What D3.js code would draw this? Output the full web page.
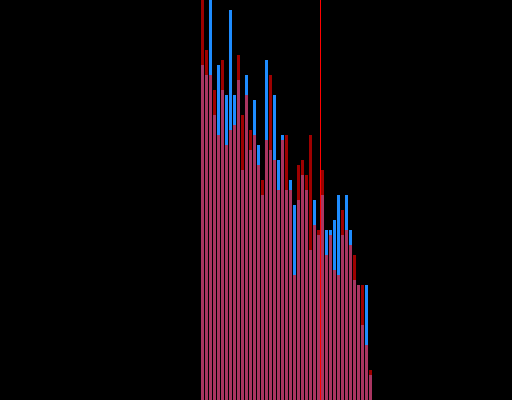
<!DOCTYPE html>
<html>
<head>
<meta charset="utf-8">
<script src="https://cdn.jsdelivr.net/npm/d3@7"></script>
<style>
  html, body { margin: 0; padding: 0; background: #000; }
  svg { display: block; overflow: hidden; }
</style>
</head>
<body>
<script>
// Data
const categories = d3.range(1, 44).map(String);
const blueValues = [67,65,84,57,67,62,61,78,61,64,46,65,50,60,51,41,68,50,61,48,53,42,44,39,40,45,42,30,40,33,41,34,34,36,41,33,41,34,24,23,15,23,5];
const redValues  = [85,70,65,62,53,68,51,54,55,69,57,61,54,53,47,44,52,65,48,42,52,53,42,25,47,48,45,53,35,34,46,29,33,26,25,38,34,31,29,23,23,11,6];
const markerCategory = "31"; // vertical red rule drawn just left of this category

const W = 512, H = 400;
const svg = d3.select("body").append("svg").attr("width", W).attr("height", H);
svg.append("rect").attr("width", W).attr("height", H).attr("fill", "#000");

const x = d3.scaleBand().domain(categories).range([200.5, 372.5]).paddingInner(0.25).paddingOuter(0.125);
const y = d3.scaleLinear().domain([0, 80]).range([H, 0]);

svg.append("g").selectAll("rect").data(blueValues).join("rect")
  .attr("x", (d, i) => Math.round(x(categories[i])))
  .attr("width", Math.round(x.bandwidth()))
  .attr("y", d => y(d))
  .attr("height", d => H - y(d))
  .attr("fill", "#1e8cff")
  .attr("shape-rendering", "crispEdges");

svg.append("g").selectAll("rect").data(redValues).join("rect")
  .attr("x", (d, i) => Math.round(x(categories[i])))
  .attr("width", Math.round(x.bandwidth()))
  .attr("y", d => y(d))
  .attr("height", d => H - y(d))
  .attr("fill", "#ff0000")
  .attr("fill-opacity", 0.62)
  .attr("shape-rendering", "crispEdges");

const mx = Math.round(x(markerCategory)) - 0.5;
svg.append("line")
  .attr("x1", mx).attr("x2", mx)
  .attr("y1", 0).attr("y2", H)
  .attr("stroke", "#ff0000")
  .attr("stroke-width", 1)
  .attr("shape-rendering", "crispEdges");
</script>
</body>
</html>
